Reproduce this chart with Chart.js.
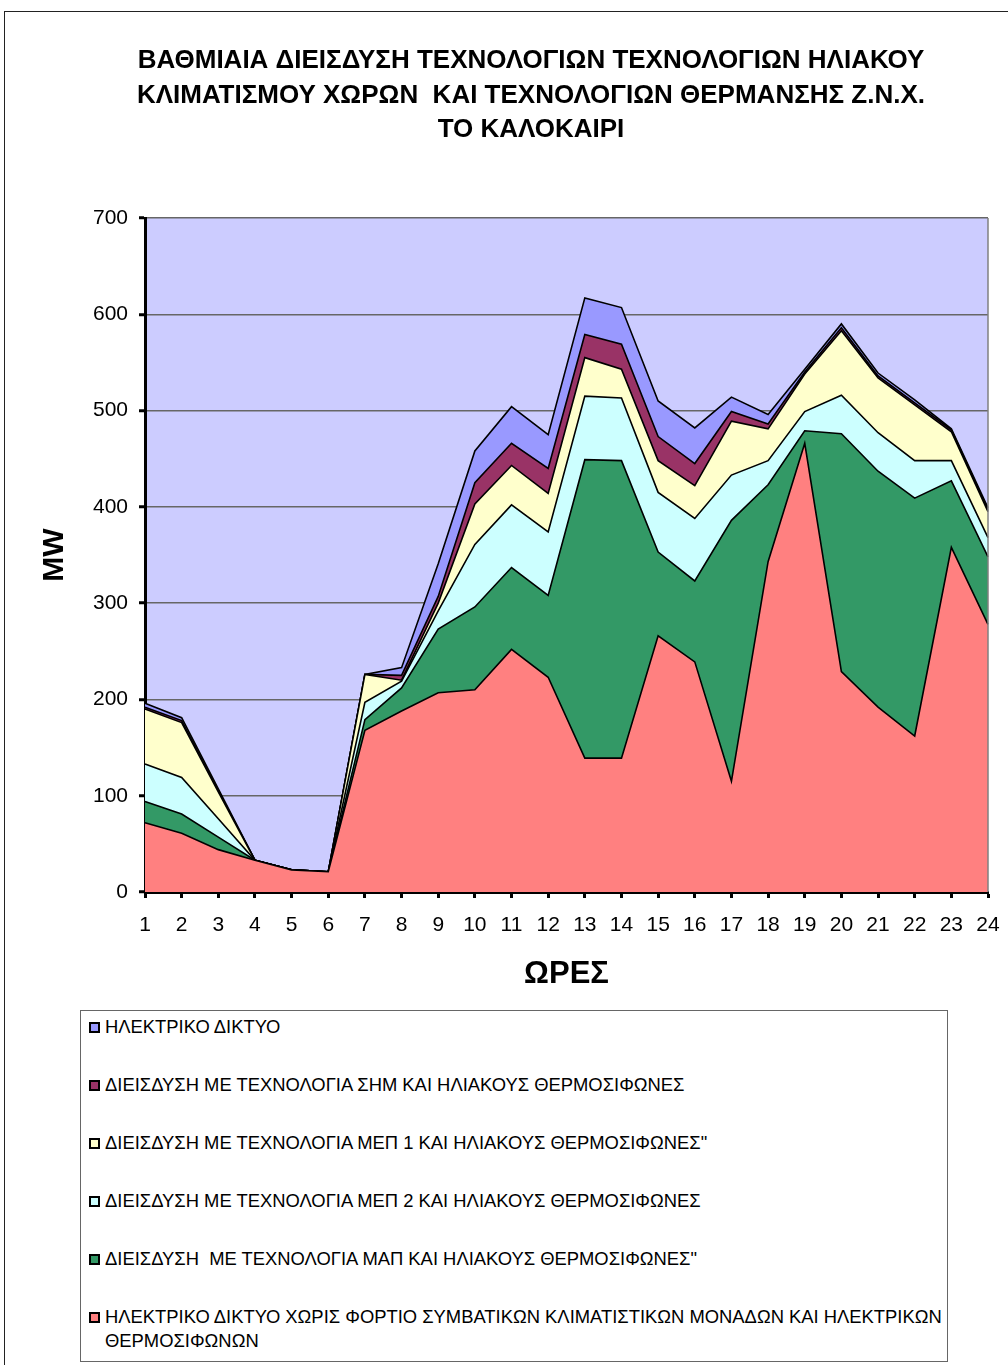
<!DOCTYPE html>
<html>
<head>
<meta charset="utf-8">
<script src="https://cdn.jsdelivr.net/npm/chart.js@4.4.0/dist/chart.umd.min.js"></script>
<style>
    html, body { margin: 0; padding: 0; background: #fff; }
    body { width: 1008px; height: 1365px; position: relative; overflow: hidden; font-family: "Liberation Sans", Arial, sans-serif; }
    #frame { position: absolute; left: 4px; top: 11px; width: 1100px; height: 1400px; border: 1px solid #222; pointer-events: none; }
    #chart { position: absolute; left: 0; top: 0; }
    #legend { position: absolute; left: 80px; top: 1010px; width: 866px; height: 350px; border: 1px solid #666; }
    .item { position: absolute; left: 8px; width: 852px; line-height: 24px; font-size: 18.4px; color: #000; white-space: pre-wrap; }
    .item .box { position: absolute; left: 0; top: 7px; width: 7px; height: 7px; border: 2px solid #000; }
    .item .txt { display: block; margin-left: 16px; width: 840px; }
</style>
</head>
<body>
<div id="frame"></div>
<canvas id="chart" width="1008" height="1000"></canvas>
<div id="legend"></div>
<script>
// hours on the x axis
const hours = ['1', '2', '3', '4', '5', '6', '7', '8', '9', '10', '11', '12',
               '13', '14', '15', '16', '17', '18', '19', '20', '21', '22', '23', '24'];

// level of each band's upper edge, MW
const baseLoad = [72, 61, 44, 33, 23, 21, 168, 188, 207, 210, 252, 223, 139, 139, 266, 239, 115, 343, 466, 229, 192, 162, 358, 278];
const mapLevel = [94, 81, 57, 33, 23, 21, 179, 212, 273, 296, 337, 308, 449, 448, 353, 323, 386, 423, 479, 476, 437, 409, 427, 348];
const mep2Level = [133, 119, 76, 33, 23, 21, 197, 219, 292, 361, 402, 374, 515, 513, 415, 388, 433, 448, 499, 516, 477, 448, 448, 368];
const mep1Level = [190, 176, 104, 33, 23, 21, 226, 220, 300, 403, 443, 414, 555, 543, 448, 422, 489, 481, 538, 583, 534, 506, 478, 395];
const shmLevel = [192, 178, 105, 33, 23, 21, 226, 225, 307, 425, 466, 440, 579, 569, 473, 445, 499, 486, 540, 586, 536, 508, 480, 397];
const gridLevel = [196, 181, 107, 33, 23, 21, 226, 233, 341, 458, 504, 475, 617, 607, 510, 482, 514, 496, 543, 590, 539, 511, 481, 399];

const titleLines = [
    'ΒΑΘΜΙΑΙΑ ΔΙΕΙΣΔΥΣΗ ΤΕΧΝΟΛΟΓΙΩΝ ΤΕΧΝΟΛΟΓΙΩΝ ΗΛΙΑΚΟΥ',
    'ΚΛΙΜΑΤΙΣΜΟΥ ΧΩΡΩΝ  ΚΑΙ ΤΕΧΝΟΛΟΓΙΩΝ ΘΕΡΜΑΝΣΗΣ Ζ.Ν.Χ.',
    'ΤΟ ΚΑΛΟΚΑΙΡΙ'
];

const seriesNames = [
    'ΗΛΕΚΤΡΙΚΟ ΔΙΚΤΥΟ ΧΩΡΙΣ ΦΟΡΤΙΟ ΣΥΜΒΑΤΙΚΩΝ ΚΛΙΜΑΤΙΣΤΙΚΩΝ ΜΟΝΑΔΩΝ ΚΑΙ ΗΛΕΚΤΡΙΚΩΝ ΘΕΡΜΟΣΙΦΩΝΩΝ',
    'ΔΙΕΙΣΔΥΣΗ  ΜΕ ΤΕΧΝΟΛΟΓΙΑ ΜΑΠ ΚΑΙ ΗΛΙΑΚΟΥΣ ΘΕΡΜΟΣΙΦΩΝΕΣ"',
    'ΔΙΕΙΣΔΥΣΗ ΜΕ ΤΕΧΝΟΛΟΓΙΑ ΜΕΠ 2 ΚΑΙ ΗΛΙΑΚΟΥΣ ΘΕΡΜΟΣΙΦΩΝΕΣ',
    'ΔΙΕΙΣΔΥΣΗ ΜΕ ΤΕΧΝΟΛΟΓΙΑ ΜΕΠ 1 ΚΑΙ ΗΛΙΑΚΟΥΣ ΘΕΡΜΟΣΙΦΩΝΕΣ"',
    'ΔΙΕΙΣΔΥΣΗ ΜΕ ΤΕΧΝΟΛΟΓΙΑ ΣΗΜ ΚΑΙ ΗΛΙΑΚΟΥΣ ΘΕΡΜΟΣΙΦΩΝΕΣ',
    'ΗΛΕΚΤΡΙΚΟ ΔΙΚΤΥΟ'
];
const seriesColors = ['#FF8080', '#339966', '#CCFFFF', '#FFFFCC', '#993366', '#9999FF'];

const FONT = '"Liberation Sans", Arial, sans-serif';

function band(i, data) {
    return {
        label: seriesNames[i],
        data: data,
        backgroundColor: seriesColors[i],
        borderColor: '#000',
        borderWidth: 1.6,
        pointRadius: 0,
        tension: 0,
        fill: i === 0 ? 'origin' : '-1'
    };
}

// plot background + right frame line, and the centred sheet title
const sheetPlugin = {
    id: 'sheet',
    beforeDraw(chart) {
        const { ctx, chartArea: a } = chart;
        ctx.save();
        ctx.fillStyle = '#CCCCFF';
        ctx.fillRect(a.left, a.top, a.right - a.left, a.bottom - a.top);
        ctx.restore();
    },
    afterDatasetsDraw(chart) {
        const { ctx, chartArea: a } = chart;
        ctx.save();
        ctx.strokeStyle = '#808080';
        ctx.lineWidth = 1.5;
        ctx.beginPath();
        ctx.moveTo(a.right, a.top);
        ctx.lineTo(a.right, a.bottom);
        ctx.stroke();
        ctx.restore();
    },
    afterDraw(chart) {
        const ctx = chart.ctx;
        ctx.save();
        ctx.font = 'bold 26px ' + FONT;
        ctx.fillStyle = '#000';
        ctx.textAlign = 'center';
        ctx.textBaseline = 'middle';
        titleLines.forEach((line, i) => ctx.fillText(line, 531, 61 + i * 34.5));
        ctx.restore();
    }
};

const config = {
    type: 'line',
    data: {
        labels: hours,
        datasets: [
            band(0, baseLoad),
            band(1, mapLevel),
            band(2, mep2Level),
            band(3, mep1Level),
            band(4, shmLevel),
            band(5, gridLevel)
        ]
    },
    options: {
        responsive: false,
        animation: false,
        layout: {
            padding: { top: 218, right: 20, left: 0, bottom: 0 }
        },
        plugins: {
            legend: { display: false },
            title: { display: false },
            tooltip: { enabled: false }
        },
        scales: {
            x: {
                afterFit: (scale) => {
                    scale.height = 108;
                    scale.paddingLeft = 0;
                    scale.paddingRight = 0;
                },
                grid: {
                    drawOnChartArea: false,
                    tickLength: 6,
                    tickColor: '#000',
                    tickWidth: 3
                },
                border: { color: '#000', width: 3 },
                ticks: {
                    color: '#000',
                    font: { family: FONT, size: 21 },
                    padding: 15,
                    maxRotation: 0,
                    autoSkip: false
                },
                title: {
                    display: true,
                    text: 'ΩΡΕΣ',
                    color: '#000',
                    font: { family: FONT, size: 31, weight: 'bold' },
                    padding: { top: 0, bottom: 7 }
                }
            },
            y: {
                min: 0,
                max: 700,
                afterFit: (scale) => {
                    scale.width = 145;
                    scale.paddingTop = 0;
                    scale.paddingBottom = 0;
                },
                grid: {
                    color: '#666',
                    lineWidth: 1.5,
                    tickLength: 6,
                    tickColor: '#000',
                    tickWidth: 3
                },
                border: { color: '#000', width: 3 },
                ticks: {
                    stepSize: 100,
                    color: '#000',
                    font: { family: FONT, size: 21 },
                    padding: 11
                },
                title: {
                    display: true,
                    text: 'MW',
                    color: '#000',
                    font: { family: FONT, size: 30, weight: 'bold' },
                    padding: { top: 37, bottom: 0 }
                }
            }
        }
    },
    plugins: [sheetPlugin]
};

const chart = new Chart(document.getElementById('chart'), config);

// legend box, top series first like the original sheet
const legendItems = chart.options.plugins.legend.labels.generateLabels(chart).reverse();
const legendEl = document.getElementById('legend');
legendItems.forEach((item, i) => {
    const row = document.createElement('div');
    row.className = 'item';
    row.style.top = (4 + i * 58) + 'px';
    const box = document.createElement('span');
    box.className = 'box';
    box.style.background = item.fillStyle;
    const txt = document.createElement('span');
    txt.className = 'txt';
    txt.textContent = item.text;
    row.append(box, txt);
    legendEl.append(row);
});
</script>
</body>
</html>
